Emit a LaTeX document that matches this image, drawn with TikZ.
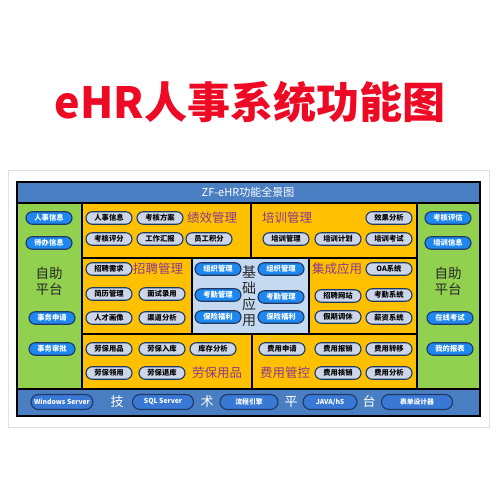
\documentclass[tikz,border=0pt]{standalone}
\usepackage{fontspec}
\setmainfont{Noto Sans CJK SC}
\definecolor{titlered}{HTML}{EE0A24}
\definecolor{barblue}{HTML}{4A7EC2}
\definecolor{panelgreen}{HTML}{92D050}
\definecolor{blockorange}{HTML}{FFC000}
\definecolor{baseblue}{HTML}{C5D9F1}
\definecolor{navy}{HTML}{1F3864}
\definecolor{pillgray}{HTML}{CCD6E8}
\definecolor{pillblue}{HTML}{1E88F0}
\definecolor{techpill}{HTML}{3A78D6}
\definecolor{labpurple}{HTML}{8A3A8F}
\tikzset{
  gp/.style={draw=navy, line width=1.1pt, fill=pillgray, rounded corners=6.25pt,
    minimum width=46pt, minimum height=12.5pt, inner sep=0pt,
    font=\fontsize{7.3}{7.3}\selectfont\bfseries, text=black},
  bp/.style={gp, fill=pillblue, text=white},
  tp/.style={gp, fill=techpill, text=white, minimum height=15pt, rounded corners=7.5pt,
    font=\fontsize{6.8}{6.8}\selectfont\bfseries},
  lab/.style={font=\fontsize{12.5}{12.5}\selectfont, text=labpurple, inner sep=0pt},
  big/.style={font=\fontsize{13.5}{16}\selectfont, text=black!85, inner sep=0pt, align=center},
  tech/.style={font=\fontsize{13}{13}\selectfont, text=white, inner sep=0pt},
  blk/.style={draw=black, line width=1.3pt}
}
\begin{document}
\begin{tikzpicture}[x=1pt,y=-1pt]
\useasboundingbox (0,0) rectangle (500,500);
\fill[white] (0,0) rectangle (500,500);
% title
\node[font=\fontsize{43}{43}\selectfont\bfseries, text=titlered, inner sep=0pt] (title) at (250,102) {eHR人事系统功能图};
% frame
\draw[black!12, line width=0.8pt] (8,170) rectangle (489,427);
% blocks
\fill[barblue] (17,182) rectangle (480,203);
\fill[panelgreen] (17,203) rectangle (82,389);
\fill[panelgreen] (417,203) rectangle (480,389);
\fill[barblue] (17,389) rectangle (480,416);
\fill[blockorange] (82,203) rectangle (417,389);
\fill[baseblue] (192,258) rectangle (309,334);
\draw[blk] (17,182) rectangle (480,416);
\draw[blk] (17,203) -- (480,203);
\draw[blk] (17,389) -- (480,389);
\draw[blk] (82,203) -- (82,389);
\draw[blk] (417,203) -- (417,389);
\draw[blk] (82,258) -- (417,258);
\draw[blk] (82,334) -- (417,334);
\draw[blk] (251,203) -- (251,258);
\draw[blk] (252,334) -- (252,389);
\draw[blk] (192,258) -- (192,334);
\draw[blk] (309,258) -- (309,334);
% title bar
\node[font=\fontsize{11}{11}\selectfont, text=white, inner sep=0pt] (bartitle) at (248,192.5) {ZF-eHR功能全景图};
% left panel
\node[bp] (l1) at (49,218) {人事信息};
\node[bp] (l2) at (49,243) {待办信息};
\node[big] (lself) at (49,281) {自助\\平台};
\node[bp] (l3) at (52,318) {事务申请};
\node[bp] (l4) at (52,349) {事务审批};
% right panel
\node[bp] (r1) at (448,218) {考核评估};
\node[bp] (r2) at (448,243) {培训信息};
\node[big] (rself) at (448,281) {自助\\平台};
\node[bp] (r3) at (450,318) {在线考试};
\node[bp] (r4) at (450,349) {我的报表};
% 绩效管理
\node[gp] (a1) at (109,218) {人事信息};
\node[gp] (a2) at (160,218) {考核方案};
\node[lab] (alab) at (212,218) {绩效管理};
\node[gp] (a3) at (109,239) {考核评分};
\node[gp] (a4) at (160,239) {工作汇报};
\node[gp] (a5) at (209,239) {员工积分};
% 培训管理
\node[lab] (blab) at (287,218) {培训管理};
\node[gp] (b1) at (389,218) {效果分析};
\node[gp] (b2) at (286,239) {培训管理};
\node[gp] (b3) at (338,239) {培训计划};
\node[gp] (b4) at (389,239) {培训考试};
% 招聘管理
\node[gp] (c1) at (109,269) {招聘需求};
\node[lab] (clab) at (158,269) {招聘管理};
\node[gp] (c2) at (109,294) {简历管理};
\node[gp] (c3) at (162,294) {面试录用};
\node[gp] (c4) at (109,318) {人才画像};
\node[gp] (c5) at (162,318) {渠道分析};
% 基础应用
\node[bp] (d1) at (218,269) {组织管理};
\node[bp] (d2) at (218,295) {考勤管理};
\node[bp] (d3) at (218,317) {保险福利};
\node[big, font=\fontsize{14}{16}\selectfont] (dlab) at (249,296) {基\\础\\应\\用};
\node[bp] (d4) at (281,269) {组织管理};
\node[bp] (d5) at (281,297) {考勤管理};
\node[bp] (d6) at (281,317) {保险福利};
% 集成应用
\node[lab] (elab) at (337,269) {集成应用};
\node[gp] (e1) at (389,269) {OA系统};
\node[gp] (e2) at (338,296) {招聘网站};
\node[gp] (e3) at (389,295) {考勤系统};
\node[gp] (e4) at (338,317) {假期调休};
\node[gp] (e5) at (389,318) {薪资系统};
% 劳保用品
\node[gp] (f1) at (109,349) {劳保用品};
\node[gp] (f2) at (162,349) {劳保入库};
\node[gp] (f3) at (213,349) {库存分析};
\node[gp] (f4) at (109,373) {劳保领用};
\node[gp] (f5) at (162,373) {劳保退库};
\node[lab] (flab) at (217,373) {劳保用品};
% 费用管控
\node[gp] (g1) at (282,349) {费用申请};
\node[gp] (g2) at (338,349) {费用报销};
\node[gp] (g3) at (389,349) {费用转移};
\node[lab] (glab) at (285,373) {费用管控};
\node[gp] (g4) at (338,373) {费用核销};
\node[gp] (g5) at (389,373) {费用分析};
% tech bar
\node[tp, minimum width=62pt] (t1) at (62,402) {Windows Server};
\node[tech] (tj1) at (117,402) {技};
\node[tp, minimum width=61pt] (t2) at (163,402) {SQL Server};
\node[tech] (tj2) at (207,402) {术};
\node[tp, minimum width=58pt] (t3) at (249,402) {流程引擎};
\node[tech] (tj3) at (291,402) {平};
\node[tp, minimum width=54pt] (t4) at (330,402) {JAVA/h5};
\node[tech] (tj4) at (369,402) {台};
\node[tp, minimum width=71pt] (t5) at (417,402) {表单设计器};
\end{tikzpicture}
\end{document}
